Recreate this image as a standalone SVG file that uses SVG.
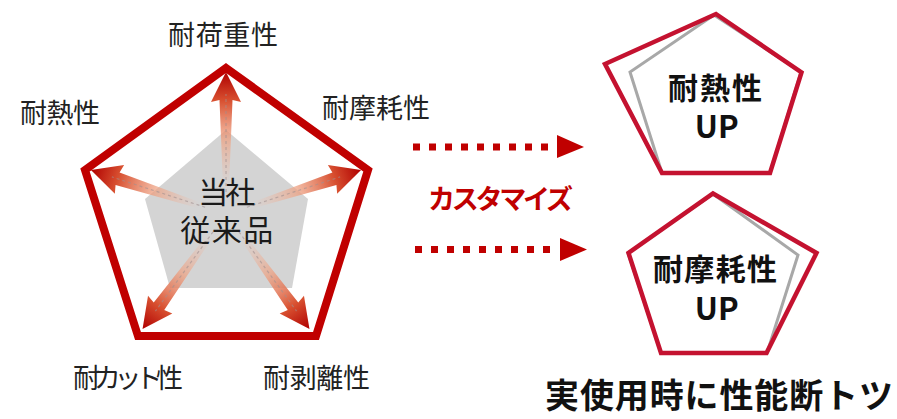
<svg xmlns="http://www.w3.org/2000/svg" width="897" height="419" viewBox="0 0 897 419">
<defs>
<style>
.lbl{font-family:"Noto Sans CJK JP","Noto Sans",sans-serif;font-size:27px;fill:#222;text-anchor:middle}
.ctr{font-family:"Noto Sans CJK JP","Noto Sans",sans-serif;font-size:30px;fill:#1a1a1a;text-anchor:middle}
.bold{font-family:"Noto Sans CJK JP","Noto Sans",sans-serif;font-weight:bold;fill:#111;text-anchor:middle}
.red{font-family:"Noto Sans CJK JP","Noto Sans",sans-serif;font-weight:bold;font-size:27px;fill:#c00000;text-anchor:middle}
.dots{stroke:#c00000;stroke-width:7;stroke-dasharray:7 9;fill:none}
.head{fill:#c00000}
.rp{fill:none;stroke:#c41230;stroke-width:4.5;stroke-linejoin:miter}
.gp{fill:#fff;stroke:#a8a8a8;stroke-width:3}
.arr{fill:url(#ag)}
.dash{stroke:#a09090;stroke-width:1.2;stroke-dasharray:3 3;opacity:0.6;fill:none}
</style>
<linearGradient id="ag" x1="0" y1="1" x2="0" y2="0">
<stop offset="0" stop-color="#f4b8a0" stop-opacity="0"/>
<stop offset="0.4" stop-color="#eea080" stop-opacity="0.7"/>
<stop offset="0.75" stop-color="#d85030"/>
<stop offset="1" stop-color="#b00000"/>
</linearGradient>
<g id="arrow">
<path class="arr" d="M-3,-28 L-6.5,-114 L-15,-112 L0,-142 L15,-112 L6.5,-114 L3,-28 Z"/>
<line class="dash" x1="0" y1="-22" x2="0" y2="-120"/>
</g>
</defs>
<rect width="897" height="419" fill="#fff"/>

<g id="radar">
<polygon points="226,130 308,199 292,288 170,288 145,199" fill="#d4d4d4"/>
<polygon points="226,68 368,170 316,336 138,336 85,170" fill="none" stroke="#c00000" stroke-width="8" stroke-linejoin="miter"/>
<g transform="translate(226,214)">
<use href="#arrow"/>
<use href="#arrow" transform="rotate(72)"/>
<use href="#arrow" transform="rotate(144)"/>
<use href="#arrow" transform="rotate(-144)"/>
<use href="#arrow" transform="rotate(-72)"/>
</g>
<text class="ctr" x="226.7" y="203" textLength="57" lengthAdjust="spacing">当社</text>
<text class="ctr" x="226.7" y="241" textLength="93" lengthAdjust="spacing">従来品</text>
</g>

<g id="labels">
<text class="lbl" x="223" y="44.5" textLength="110" lengthAdjust="spacing">耐荷重性</text>
<text class="lbl" x="60" y="123" textLength="80" lengthAdjust="spacing">耐熱性</text>
<text class="lbl" x="376" y="118" textLength="108" lengthAdjust="spacing">耐摩耗性</text>
<text class="lbl" x="128" y="388" textLength="110" lengthAdjust="spacing">耐カット性</text>
<text class="lbl" x="316.5" y="388" textLength="107" lengthAdjust="spacing">耐剥離性</text>
</g>

<g id="connectors">
<line class="dots" x1="413" y1="147" x2="548" y2="147"/>
<polygon class="head" points="557,135 584,147 557,158"/>
<line class="dots" x1="415" y1="249.5" x2="550" y2="249.5"/>
<polygon class="head" points="560,238 587,249.5 560,261"/>
<text class="red" x="500.5" y="208.5" textLength="145" lengthAdjust="spacing">カスタマイズ</text>
</g>

<g id="heat-up">
<polygon class="gp" points="714,15 801,72 770,173 662,173 630,72"/>
<polygon class="rp" points="716,14 801.5,72.5 770,173 662,173 605,64"/>
<text class="bold" x="715" y="98.5" font-size="30" textLength="94" lengthAdjust="spacing">耐熱性</text>
<text class="bold" x="716.7" y="138" font-size="31">UP</text>
</g>

<g id="wear-up">
<polygon class="gp" points="713,194 798,255 767,353 661,353 628,253"/>
<polygon class="rp" points="713,193.5 816.5,253 766.5,353 661,353 628.5,253"/>
<text class="bold" x="715" y="280" font-size="30" textLength="124" lengthAdjust="spacing">耐摩耗性</text>
<text class="bold" x="716.7" y="320" font-size="31">UP</text>
</g>

<g id="caption">
<text class="bold" x="719" y="408" font-size="34" textLength="348" lengthAdjust="spacing">実使用時に性能断トツ</text>
</g>
</svg>
